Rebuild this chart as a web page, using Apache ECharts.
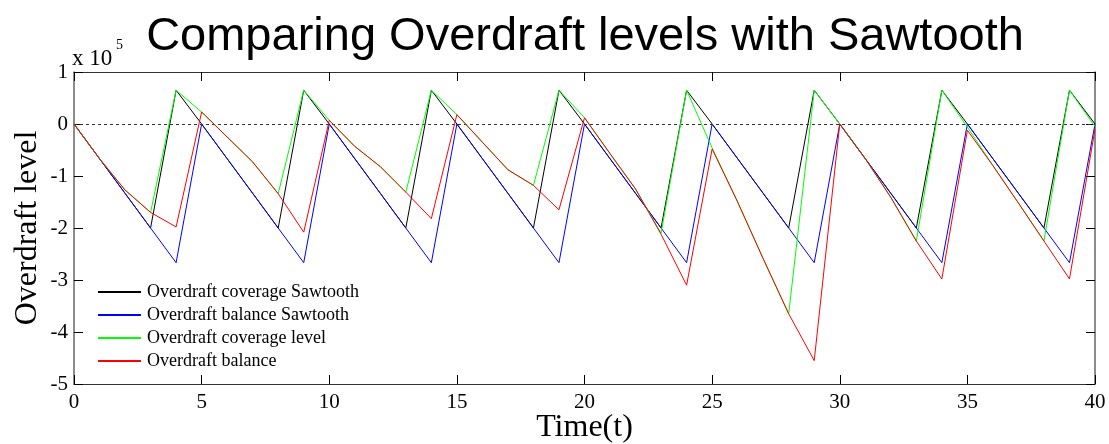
<!DOCTYPE html>
<html>
<head>
<meta charset="utf-8">
<script src="https://cdn.jsdelivr.net/npm/echarts@6/dist/echarts.min.js"></script>
<style>
html,body{margin:0;padding:0;background:#fff;}
#main{width:1109px;height:444px;}
</style>
</head>
<body>
<div id="main"></div>
<script>
// Time steps
const times = [0,1,2,3,4,5,6,7,8,9,10,11,12,13,14,15,16,17,18,19,20,21,22,23,24,25,26,27,28,29,30,31,32,33,34,35,36,37,38,39,40];
// Values in units of 10^5
const coverageSawtooth = [0,-0.667,-1.333,-2.0,0.65, 0,-0.667,-1.333,-2.0,0.65, 0,-0.667,-1.333,-2.0,0.65, 0,-0.667,-1.333,-2.0,0.65, 0,-0.667,-1.333,-2.0,0.65, 0,-0.667,-1.333,-2.0,0.65, 0,-0.667,-1.333,-2.0,0.65, 0,-0.667,-1.333,-2.0,0.65, 0];
const balanceSawtooth = [0,-0.667,-1.333,-2.0,-2.667, 0,-0.667,-1.333,-2.0,-2.667, 0,-0.667,-1.333,-2.0,-2.667, 0,-0.667,-1.333,-2.0,-2.667, 0,-0.667,-1.333,-2.0,-2.667, 0,-0.667,-1.333,-2.0,-2.667, 0,-0.667,-1.333,-2.0,-2.667, 0,-0.667,-1.333,-2.0,-2.667, 0];
const coverageLevel = [0,-0.667,-1.27,-1.70,0.65, 0.23,-0.25,-0.73,-1.34,0.65, 0.07,-0.43,-0.82,-1.31,0.65, 0.18,-0.35,-0.88,-1.18,0.65, 0.12,-0.57,-1.25,-2.10,0.65, -0.46,-1.50,-2.59,-3.65,0.65, 0,-0.667,-1.41,-2.25,0.65, -0.06,-0.80,-1.52,-2.25,0.65, -0.05];
const balance = [0,-0.667,-1.27,-1.70,-1.98, 0.23,-0.25,-0.73,-1.34,-2.08, 0.07,-0.43,-0.82,-1.31,-1.82, 0.18,-0.35,-0.88,-1.18,-1.65, 0.12,-0.57,-1.25,-2.12,-3.10, -0.48,-1.50,-2.59,-3.65,-4.55, 0,-0.667,-1.41,-2.25,-2.98, -0.12,-0.80,-1.52,-2.25,-2.98, -0.10];
const seriesNames = ['Overdraft coverage Sawtooth','Overdraft balance Sawtooth','Overdraft coverage level','Overdraft balance'];
const seriesColors = ['#000000','#0000ff','#00ff00','#ff0000'];
const xTicks = [0,5,10,15,20,25,30,35,40];
const yTicks = [1,0,-1,-2,-3,-4,-5];
const titleText = 'Comparing Overdraft levels with Sawtooth';

const serif = 'Liberation Serif';
const pair = a => times.map((t,i)=>[t,a[i]]);
const dataSets = [coverageSawtooth, balanceSawtooth, coverageLevel, balance];

const chart = echarts.init(document.getElementById('main'), null, {renderer:'canvas'});
const series = dataSets.map((d,i)=>({
  name: seriesNames[i], type:'line', data: pair(d), symbol:'none', showSymbol:false,
  lineStyle:{color:seriesColors[i], width:1}, itemStyle:{color:seriesColors[i]},
  animation:false, z: 3+i
}));
series[0].markLine = {
  silent:true, symbol:'none', label:{show:false}, animation:false,
  lineStyle:{color:'#333', type:[3,3], width:1.2},
  data:[{yAxis:0}]
};
const axisLineStyle = {color:'#333', width:1.2};
chart.setOption({
  backgroundColor:'#fff',
  animation:false,
  grid:{left:74, right:14, top:72, bottom:60, containLabel:false, outerBoundsMode:'none'},
  legend:{
    orient:'vertical', left:93, top:278, itemWidth:43, itemHeight:2, itemGap:5,
    icon:'rect',
    data:seriesNames,
    textStyle:{fontFamily:serif, fontSize:18, color:'#000', padding:[0,0,0,1]},
    backgroundColor:'transparent'
  },
  xAxis:[{
    type:'value', min:0, max:40, interval:5, position:'bottom',
    name:'Time(t)', nameLocation:'middle', nameGap:28, nameMoveOverlap:false,
    nameTextStyle:{fontFamily:serif, fontSize:32, color:'#000'},
    axisLine:{show:true, onZero:false, lineStyle:axisLineStyle},
    axisTick:{show:true, inside:true, length:9, lineStyle:{color:'#000'}},
    axisLabel:{fontFamily:serif, fontSize:21, color:'#000', margin:8,
      formatter:v=>xTicks.includes(v)?String(v):''},
    splitLine:{show:false}
  },{
    type:'value', min:0, max:40, interval:5, position:'top',
    axisLine:{show:true, onZero:false, lineStyle:axisLineStyle},
    axisTick:{show:true, inside:true, length:9, lineStyle:{color:'#000'}},
    axisLabel:{show:false}, splitLine:{show:false}
  }],
  yAxis:[{
    type:'value', min:-5, max:1, interval:1, position:'left',
    name:'Overdraft level', nameLocation:'middle', nameGap:30, nameMoveOverlap:false,
    nameTextStyle:{fontFamily:serif, fontSize:32, color:'#000'},
    axisLine:{show:true, onZero:false, lineStyle:{color:'#666', width:1.5}},
    axisTick:{show:true, inside:true, length:9, lineStyle:{color:'#000'}},
    axisLabel:{fontFamily:serif, fontSize:21, color:'#000', margin:6,
      formatter:v=>yTicks.includes(v)?String(v):''},
    splitLine:{show:false}
  },{
    type:'value', min:-5, max:1, interval:1, position:'right',
    axisLine:{show:true, onZero:false, lineStyle:{color:'#666', width:1.5}},
    axisTick:{show:true, inside:true, length:9, lineStyle:{color:'#000'}},
    axisLabel:{show:false}, splitLine:{show:false}
  }],
  graphic:[{
    type:'text', x:585, y:14,
    style:{
      text:titleText, align:'center', textAlign:'center', verticalAlign:'top', textVerticalAlign:'top',
      font:'47px "Liberation Sans"', fill:'#000'
    }
  },{
    type:'text', x:72, y:47,
    style:{ text:'x 10', font:'23px "Liberation Serif"', fill:'#000', verticalAlign:'top', textVerticalAlign:'top' }
  },{
    type:'text', x:116, y:38,
    style:{ text:'5', font:'14px "Liberation Serif"', fill:'#000', verticalAlign:'top', textVerticalAlign:'top' }
  }],
  series: series
});
</script>
</body>
</html>
